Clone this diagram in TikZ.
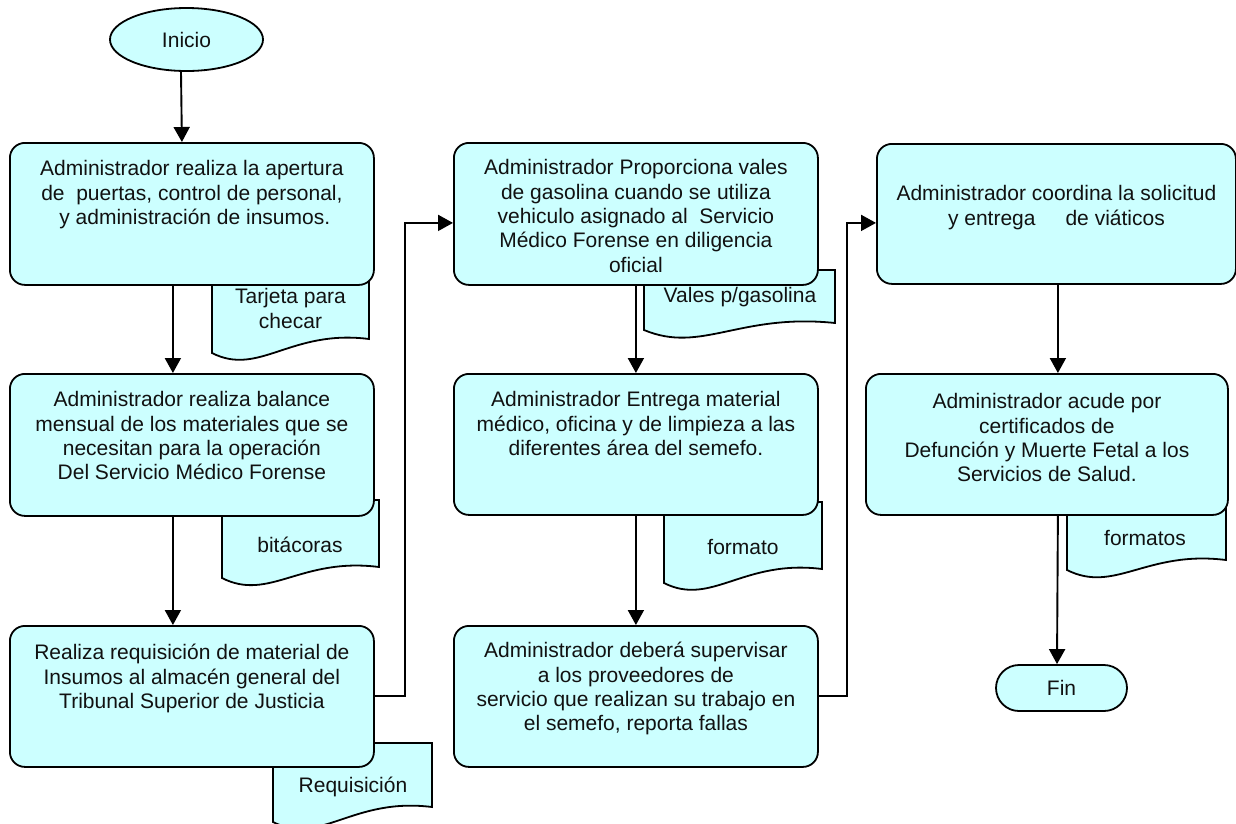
\documentclass[tikz,border=0pt]{standalone}
\usepackage{fontspec}
\setmainfont{Liberation Sans}
\usetikzlibrary{arrows.meta,shapes.geometric}
\definecolor{boxfill}{RGB}{204,255,255}
\definecolor{ink}{RGB}{17,17,17}

% text block of a process box: width, height, first baseline, lines
\newcommand{\pbox}[4]{\parbox[c][#2pt][t]{#1pt}{\centering\rule{0pt}{#3pt}#4\par}}
% document symbol: left, top, right, left bottom end, right bottom end
\newcommand{\flowdoc}[5]{%
  \path[docshape] (#1,#2) -- (#3,#2) -- (#3,#5)
    .. controls ({#1+0.5*(#3-#1)},{#5-10}) and ({#1+0.3*(#3-#1)},{#4+24}) .. (#1,#4) -- cycle;}

\tikzset{
  outline/.style={draw=black, line width=1.8pt},
  txt/.style={text=ink, font=\fontsize{21}{24.3}\selectfont},
  proc/.style={outline, txt, fill=boxfill, rounded corners=15pt, inner sep=0pt, anchor=north west},
  docshape/.style={outline, fill=boxfill},
  doclabel/.style={txt, inner sep=0pt, align=center},
  flow/.style={line width=1.9pt, -{Triangle[length=15pt,width=16pt]}},
}

\begin{document}
\begin{tikzpicture}[x=1pt, y=-1pt]
\useasboundingbox (0,0) rectangle (1236,823);

% documents (drawn first, partly hidden behind the process boxes)
\flowdoc{212}{260}{369}{353}{339}
\node[doclabel] (d1) at (290.5,308.5) {Tarjeta para\\checar};
\flowdoc{222}{500}{379}{578}{567}
\node[doclabel] (d2) at (300,545) {bit\'acoras};
\flowdoc{273}{743}{432}{822}{807}
\node[doclabel] (d3) at (353,787) {Requisici\'on};
\flowdoc{644}{270}{835}{330}{323}
\node[doclabel] (d4) at (740,297) {Vales p/gasolina};
\flowdoc{664}{502}{822}{583}{569}
\node[doclabel] (d5) at (743,547) {formato};
\flowdoc{1067}{490}{1226}{570}{560}
\node[doclabel] (d6) at (1145,538) {formatos};

% start and end
\node[ellipse, outline, txt, fill=boxfill, minimum width=153pt, minimum height=63pt, inner sep=0pt]
  (inicio) at (186.5,39.5) {Inicio};
\node[outline, txt, fill=boxfill, rounded corners=23pt, minimum width=131pt, minimum height=46pt, inner sep=0pt]
  (fin) at (1061.5,688) {\raisebox{-4pt}{Fin}};

% process boxes
\node[proc] (c1b1) at (9,142) {\pbox{364}{142}{33}{Administrador realiza la apertura\\de\ \ puertas, control de personal,\\\ y administraci\'on de insumos.}};
\node[proc] (c1b2) at (9,373) {\pbox{364}{142}{33}{Administrador realiza balance\\mensual de los materiales que se\\necesitan para la operaci\'on\\Del Servicio M\'edico Forense}};
\node[proc] (c1b3) at (9,625) {\pbox{364}{141}{34}{Realiza requisici\'on de material de\\Insumos al almac\'en general del\\Tribunal Superior de Justicia}};

\node[proc] (c2b1) at (453,142) {\pbox{364}{142}{32}{Administrador Proporciona vales\\de gasolina cuando se utiliza\\vehiculo asignado al\ \ Servicio\\M\'edico Forense en diligencia\\oficial}};
\node[proc] (c2b2) at (453,373) {\pbox{364}{141}{33}{Administrador Entrega material\\m\'edico, oficina y de limpieza a las\\diferentes \'area del semefo.}};
\node[proc] (c2b3) at (453,625) {\pbox{364}{141}{32}{Administrador deber\'a supervisar\\a los proveedores de\\servicio que realizan su trabajo en\\el semefo, reporta fallas}};

\node[proc] (c3b1) at (876,143) {\pbox{359}{140}{57}{Administrador coordina la solicitud\\y entrega\hspace{30pt}de vi\'aticos}};
\node[proc] (c3b2) at (865,373) {\pbox{362}{141}{35}{Administrador acude por\\certificados de\\Defunci\'on y Muerte Fetal a los\\Servicios de Salud.}};

% connectors
\draw[flow] ([xshift=-5.5pt]inicio.south) -- ([xshift=-10pt]c1b1.north);
\draw[flow] ([xshift=-19pt]c1b1.south) -- ([xshift=-19pt]c1b2.north);
\draw[flow] ([xshift=-19pt]c1b2.south) -- ([xshift=-19pt]c1b3.north);
\draw[flow] (c1b3.east) -- ++(30,0) |- ([yshift=-9pt]c2b1.west);
\draw[flow] (c2b1.south) -- (c2b2.north);
\draw[flow] (c2b2.south) -- (c2b3.north);
\draw[flow] (c2b3.east) -- ++(28,0) |- ([yshift=-9pt]c3b1.west);
\draw[flow] ([xshift=1.5pt]c3b1.south) -- ([xshift=11pt]c3b2.north);
\draw[flow] ([xshift=11pt]c3b2.south) -- ([xshift=-4.5pt]fin.north);
\end{tikzpicture}
\end{document}
